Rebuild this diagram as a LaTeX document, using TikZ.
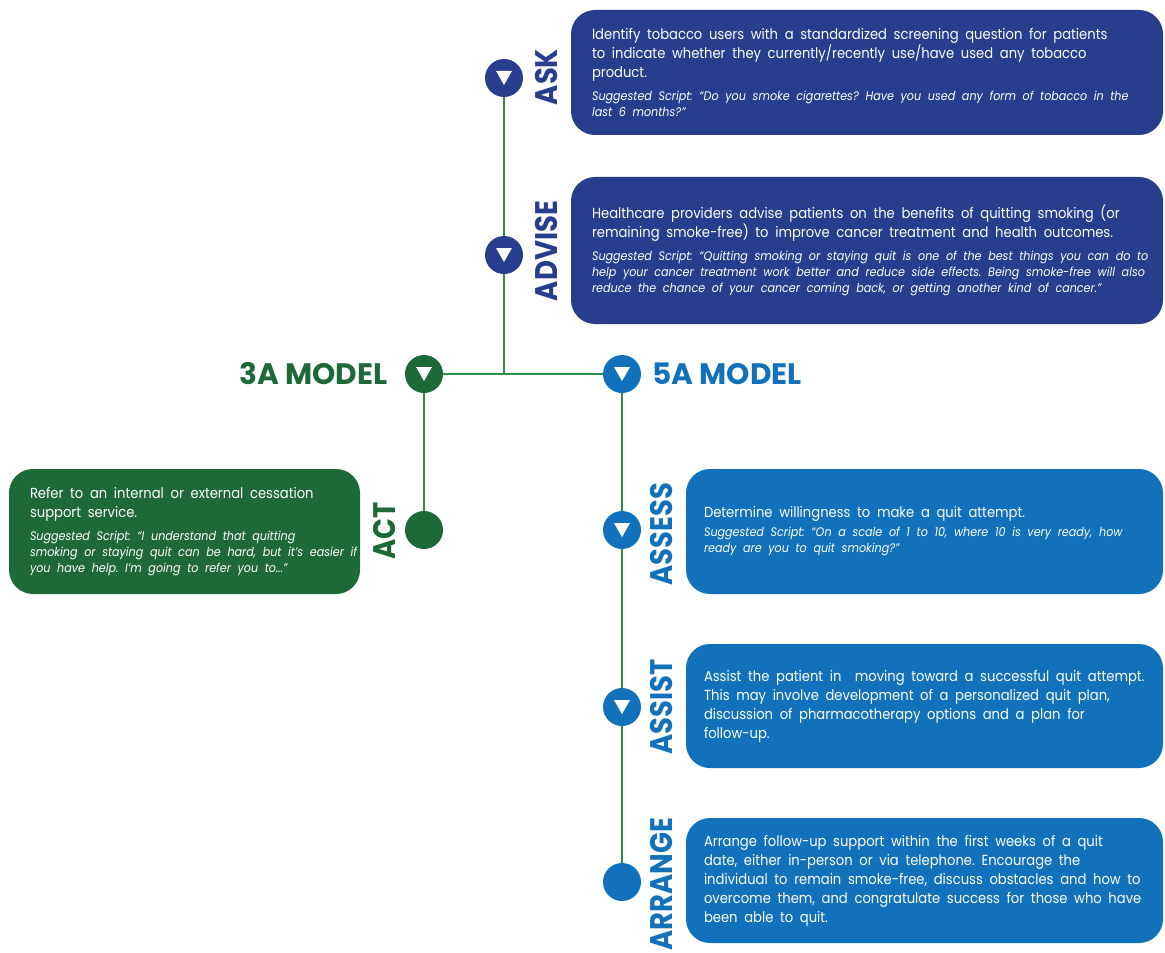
\documentclass[tikz,border=0pt]{standalone}
\usepackage{fontspec}
\setmainfont{Poppins}[FakeStretch=0.9]
\newfontfamily\headfont{Poppins}[FakeStretch=0.88]
\newfontfamily\modelfont{Poppins}
\usepackage{tikz}
\usetikzlibrary{calc}
\definecolor{askblue}{RGB}{39,61,141}
\definecolor{actgreen}{RGB}{29,106,56}
\definecolor{fiveblue}{RGB}{17,113,186}
\definecolor{stemgreen}{RGB}{38,146,68}
\def\downtri(#1){\fill[white] ($(#1)+(-8,-7)$) -- ($(#1)+(8,-7)$) -- ($(#1)+(0,7)$) -- cycle;}
\newcommand\bodyf{\fontsize{7.3}{9.5}\selectfont}
\newcommand\scrf{\fontsize{6.2}{8}\selectfont\itshape}
\frenchspacing
\tikzset{
	dot/.style={circle, minimum size=19pt, inner sep=0pt},
	card/.style={rounded corners=12pt, inner sep=0pt},
	cardtext/.style={text=white, align=left, text width=300pt, inner sep=0pt, anchor=west},
	stepname/.style={rotate=90, inner sep=0pt, font=\headfont\bfseries\fontsize{15.6}{15.6}\selectfont},
	modelname/.style={inner sep=0pt, font=\modelfont\bfseries\fontsize{14.8}{14.8}\selectfont},
	stem/.style={stemgreen, line width=0.6pt}
}

\begin{document}
\begin{tikzpicture}[x=0.5pt, y=-0.5pt]
		%%%%% START %%%%%
		\useasboundingbox (0,0) rectangle (1165,952);
		
		\node[dot, fill=askblue] (ask) at (504,78) {};
		\node[dot, fill=askblue] (advise) at (504,255) {};
		\node[dot, fill=actgreen] (model3) at (424,374) {};
		\node[dot, fill=fiveblue] (model5) at (622,374) {};
		\node[dot, fill=actgreen] (act) at (424,530) {};
		\node[dot, fill=fiveblue] (assess) at (622,530) {};
		\node[dot, fill=fiveblue] (assist) at (622,707) {};
		\node[dot, fill=fiveblue] (arrange) at (622,882) {};
		\coordinate (join) at (504,374);
		
		\draw[stem] (ask) -- (advise) -- (join);
		\draw[stem] (model3) -- (model5);
		\draw[stem] (model3) -- (act);
		\draw[stem] (model5) -- (assess) -- (assist) -- (arrange);
		
		\downtri(ask)
		\downtri(advise)
		\downtri(model3)
		\downtri(model5)
		\downtri(assess)
		\downtri(assist)
		
		\node[modelname, text=actgreen, anchor=east] (name3) at (388,374) {3A MODEL};
		\node[modelname, text=fiveblue, anchor=west] (name5) at (652,374) {5A MODEL};
		
		\node[stepname, text=askblue] (asklbl) at (546,77) {ASK};
		\node[stepname, text=askblue] (adviselbl) at (546,251) {ADVISE};
		\node[stepname, text=actgreen] (actlbl) at (384,531) {ACT};
		\node[stepname, text=fiveblue] (assesslbl) at (661,534) {ASSESS};
		\node[stepname, text=fiveblue] (assistlbl) at (661,707) {ASSIST};
		\node[stepname, text=fiveblue] (arrangelbl) at (661,884) {ARRANGE};
		
		% cards
		\node[card, fill=askblue, minimum width=296pt, minimum height=62.5pt] (askcard) at (867,72.5) {};
		\node[cardtext] (asktext) at ([xshift=10.5pt]askcard.west) {\bodyf Identify tobacco users with a standardized screening question for patients\\ to indicate whether they currently/recently use/have used any tobacco\\ product.\par\vspace{3.5pt}\scrf Suggested Script: ``Do you smoke cigarettes? Have you used any form of tobacco in the\\ last 6 months?''\par};
		
		\node[card, fill=askblue, minimum width=296pt, minimum height=73.5pt] (advisecard) at (867,250.5) {};
		\node[cardtext] (advisetext) at ([xshift=10.5pt]advisecard.west) {\bodyf Healthcare providers advise patients on the benefits of quitting smoking (or\\ remaining smoke-free) to improve cancer treatment and health outcomes.\par\vspace{3.5pt}\scrf Suggested Script: ``Quitting smoking or staying quit is one of the best things you can do to\\ help your cancer treatment work better and reduce side effects. Being smoke-free will also\\ reduce the chance of your cancer coming back, or getting another kind of cancer.''\par};
		
		\node[card, fill=actgreen, minimum width=175.5pt, minimum height=62.5pt] (actcard) at (184.5,531.5) {};
		\node[cardtext] (acttext) at ([xshift=10.5pt]actcard.west) {\bodyf Refer to an internal or external cessation\\ support service.\par\vspace{3.5pt}\scrf Suggested Script: ``I understand that quitting\\ smoking or staying quit can be hard, but it's easier if\\ you have help. I'm going to refer you to...''\par};
		
		\node[card, fill=fiveblue, minimum width=238.5pt, minimum height=62.5pt] (assesscard) at (924.5,531.5) {};
		\node[cardtext] (assesstext) at ([xshift=9pt]assesscard.west) {\bodyf Determine willingness to make a quit attempt.\par\vspace{1.5pt}\scrf Suggested Script: ``On a scale of 1 to 10, where 10 is very ready, how\\ ready are you to quit smoking?''\par};
		
		\node[card, fill=fiveblue, minimum width=238.5pt, minimum height=62pt] (assistcard) at (924.5,706) {};
		\node[cardtext] (assisttext) at ([xshift=9pt]assistcard.west) {\bodyf Assist the patient in\ \ moving toward a successful quit attempt.\\ This may involve development of a personalized quit plan,\\ discussion of pharmacotherapy options and a plan for\\ follow-up.\par};
		
		\node[card, fill=fiveblue, minimum width=238.5pt, minimum height=62.5pt] (arrangecard) at (924.5,880.5) {};
		\node[cardtext] (arrangetext) at ([xshift=9pt]arrangecard.west) {\bodyf Arrange follow-up support within the first weeks of a quit\\ date, either in-person or via telephone. Encourage the\\ individual to remain smoke-free, discuss obstacles and how to\\ overcome them, and congratulate success for those who have\\ been able to quit.\par};
		%%%%% END %%%%%
\end{tikzpicture}
\end{document}
